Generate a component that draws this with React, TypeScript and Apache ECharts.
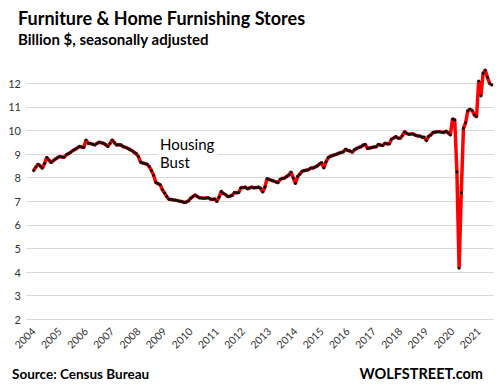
import { useEffect, useRef } from "react";
import * as echarts from "echarts";

// Year tick labels (one label every 12 months, starting Jan 2004)
const years = [
  "2004", "2005", "2006", "2007", "2008", "2009", "2010", "2011", "2012",
  "2013", "2014", "2015", "2016", "2017", "2018", "2019", "2020", "2021",
];

// Monthly sales, billion $, seasonally adjusted
const v2004 = [8.30, 8.45, 8.57, 8.50, 8.40, 8.60, 8.86, 8.75, 8.64, 8.72, 8.79, 8.85];
const v2005 = [8.90, 8.88, 8.87, 8.97, 9.02, 9.08, 9.15, 9.20, 9.26, 9.32, 9.30, 9.28];
const v2006 = [9.60, 9.46, 9.45, 9.42, 9.39, 9.45, 9.50, 9.48, 9.46, 9.40, 9.32, 9.45];
const v2007 = [9.60, 9.48, 9.39, 9.40, 9.39, 9.32, 9.29, 9.25, 9.20, 9.15, 9.08, 9.02];
const v2008 = [8.90, 8.66, 8.62, 8.60, 8.57, 8.47, 8.30, 8.10, 7.80, 7.75, 7.70, 7.49];
const v2009 = [7.35, 7.20, 7.09, 7.08, 7.06, 7.05, 7.03, 7.00, 6.99, 6.95, 6.97, 7.02];
const v2010 = [7.13, 7.20, 7.27, 7.20, 7.15, 7.14, 7.13, 7.14, 7.15, 7.10, 7.08, 7.10];
const v2011 = [6.99, 7.18, 7.42, 7.33, 7.28, 7.20, 7.22, 7.25, 7.37, 7.36, 7.37, 7.57];
const v2012 = [7.58, 7.60, 7.53, 7.57, 7.60, 7.57, 7.58, 7.60, 7.55, 7.39, 7.60, 7.96];
const v2013 = [7.92, 7.89, 7.86, 7.82, 7.79, 7.93, 7.97, 7.99, 8.05, 8.12, 8.24, 7.99];
const v2014 = [7.75, 8.05, 8.15, 8.27, 8.30, 8.32, 8.34, 8.41, 8.41, 8.45, 8.50, 8.58];
const v2015 = [8.64, 8.41, 8.67, 8.85, 8.91, 8.94, 8.97, 9.00, 9.04, 9.07, 9.10, 9.21];
const v2016 = [9.15, 9.13, 9.08, 9.18, 9.24, 9.28, 9.31, 9.38, 9.41, 9.24, 9.26, 9.28];
const v2017 = [9.30, 9.31, 9.41, 9.38, 9.36, 9.46, 9.44, 9.43, 9.63, 9.68, 9.74, 9.68];
const v2018 = [9.67, 9.78, 9.95, 9.88, 9.84, 9.85, 9.85, 9.80, 9.77, 9.77, 9.72, 9.71];
const v2019 = [9.57, 9.75, 9.81, 9.91, 9.93, 9.95, 9.95, 9.93, 9.92, 9.97, 9.90, 9.81];
const v2020 = [10.49, 10.45, 8.25, 4.16, 7.36, 10.09, 10.33, 10.84, 10.90, 10.85, 10.66, 10.58];
const v2021 = [12.10, 11.46, 12.42, 12.56, 12.25, 12.00, 11.93];

const monthly = [
  v2004, v2005, v2006, v2007, v2008, v2009, v2010, v2011, v2012,
  v2013, v2014, v2015, v2016, v2017, v2018, v2019, v2020, v2021,
].flat();

export default function App() {
  const ref = useRef<HTMLDivElement>(null);

  useEffect(() => {
    if (!ref.current) return;
    const chart = echarts.init(ref.current, null, { renderer: "svg" });
    const data = monthly.map((v, i) => [i, v]);

    chart.setOption({
      animation: false,
      backgroundColor: "#ffffff",
      grid: { left: 26, right: 5, top: 83.3, bottom: 71.7, containLabel: false },
      xAxis: {
        type: "value",
        min: -3.5,
        max: 211,
        splitLine: { show: false },
        axisLine: { show: false },
        axisTick: { show: false },
        axisLabel: {
          customValues: years.map((_, i) => i * 12),
          formatter: (v: number) => years[Math.round(v / 12)] ?? "",
          rotate: 45,
          margin: 10,
          fontFamily: "Lato",
          fontSize: 10.5,
          color: "#333333",
        },
      },
      yAxis: {
        type: "value",
        min: 2,
        max: 12,
        interval: 1,
        axisLine: { show: false },
        axisTick: { show: false },
        splitLine: { lineStyle: { color: "#d9d9d9", width: 1 } },
        axisLabel: {
          margin: 5,
          fontFamily: "Lato",
          fontSize: 11,
          color: "#333333",
        },
      },
      series: [
        {
          type: "line",
          data,
          clip: false,
          symbol: "circle",
          symbolSize: 3,
          showSymbol: true,
          showAllSymbol: true,
          lineStyle: { color: "#ff0000", width: 3.5 },
          itemStyle: { color: "#111111" },
          emphasis: { disabled: true },
          z: 3,
        },
      ],
      graphic: [
        {
          type: "text",
          x: 18,
          y: 17.5,
          style: {
            text: "Furniture & Home Furnishing Stores",
            font: "bold 18px Lato",
            fill: "#000000",
            align: "left",
            verticalAlign: "middle",
          },
        },
        {
          type: "text",
          x: 18,
          y: 39,
          style: {
            text: "Billion $, seasonally adjusted",
            font: "bold 15px Lato",
            fill: "#000000",
            align: "left",
            verticalAlign: "middle",
          },
        },
        {
          type: "text",
          x: 158,
          y: 152.5,
          z: 10,
          style: {
            text: "Housing\nBust",
            font: "15px Lato",
            lineHeight: 18,
            fill: "#000000",
            align: "left",
            verticalAlign: "middle",
            backgroundColor: "#ffffff",
            padding: [0, 3, 0, 2],
          },
        },
        {
          type: "text",
          x: 12,
          y: 373.5,
          style: {
            text: "Source: Census Bureau",
            font: "bold 13.5px Lato",
            fill: "#000000",
            align: "left",
            verticalAlign: "middle",
          },
        },
        {
          type: "text",
          x: 483,
          y: 373.5,
          style: {
            text: "WOLFSTREET.com",
            font: "bold 14.5px Lato",
            fill: "#000000",
            align: "right",
            verticalAlign: "middle",
          },
        },
      ],
    });

    return () => chart.dispose();
  }, []);

  return (
    <div
      ref={ref}
      style={{ position: "fixed", left: 0, top: 0, width: 499, height: 391, background: "#fff" }}
    />
  );
}
